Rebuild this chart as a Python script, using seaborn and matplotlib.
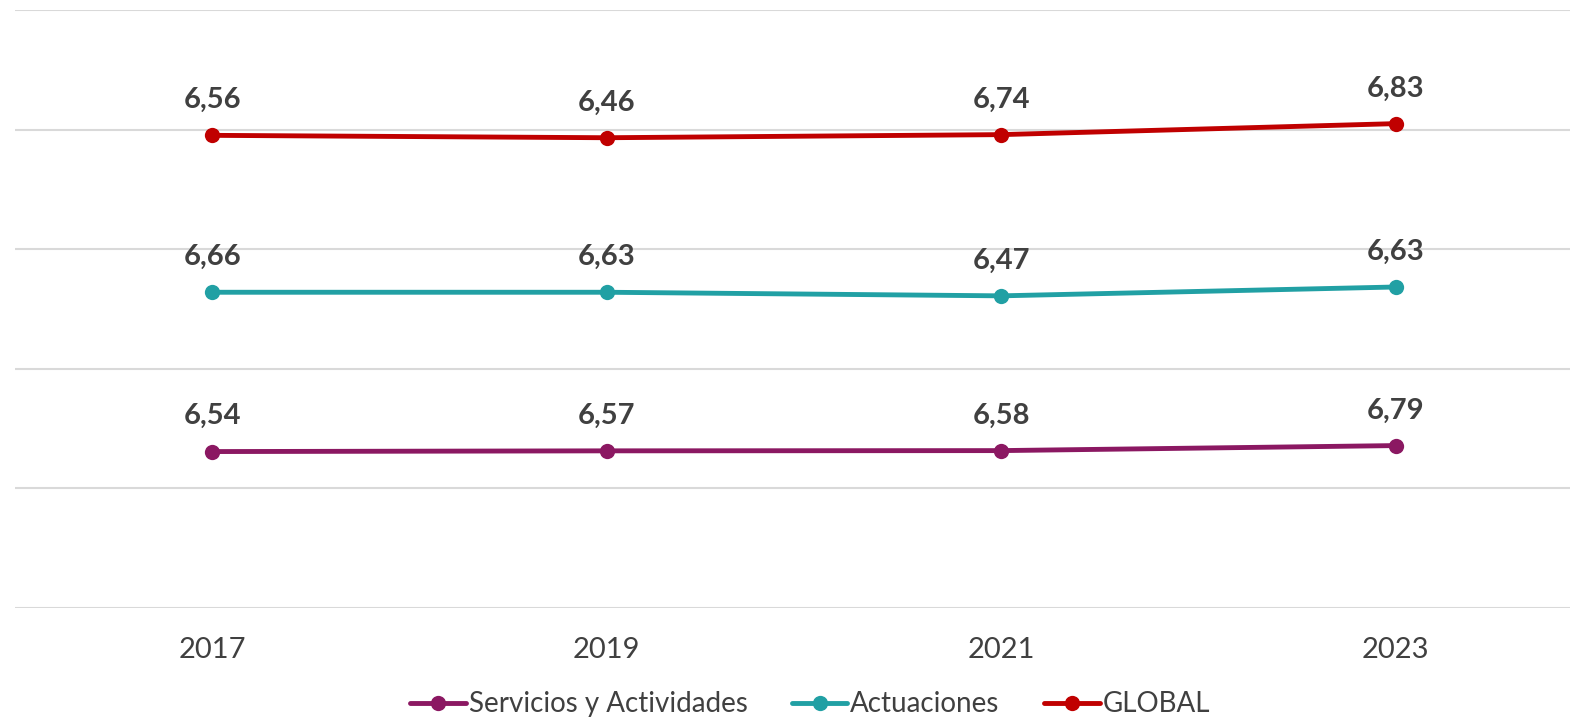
import numpy as np
import pandas as pd
import matplotlib.pyplot as plt
import seaborn as sns

# Data (stacked line chart: each series drawn on top of the previous)
years = ['2017', '2019', '2021', '2023']
series_names = ['Servicios y Actividades', 'Actuaciones', 'GLOBAL']
servicios = [6.54, 6.57, 6.58, 6.79]
actuaciones = [6.66, 6.63, 6.47, 6.63]
global_vals = [6.56, 6.46, 6.74, 6.83]
colors = ['#8B1862', '#21A0A4', '#C00000']

TEXT = '#404040'

sns.set_theme(style='white')
plt.rcParams['font.family'] = ['Lato', 'DejaVu Sans']

values = [servicios, actuaciones, global_vals]
cum = np.cumsum(np.array(values), axis=0)

rows = []
for name, vals, stacked in zip(series_names, values, cum):
    for i, y in enumerate(years):
        rows.append({'year': y, 'pos': i, 'serie': name, 'value': vals[i], 'stacked': stacked[i]})
df = pd.DataFrame(rows)

fig = plt.figure(figsize=(15.7, 7.21), dpi=100)
# plot area runs slightly past the right edge of the image
ax = fig.add_axes([15 / 1570, 1 - 608 / 721, 1578 / 1570, 598 / 721])

sns.lineplot(data=df, x='pos', y='stacked', hue='serie', hue_order=series_names,
             palette=colors, marker='o', markersize=11, markeredgewidth=0,
             linewidth=3.5, ax=ax, legend=True)

for _, r in df.iterrows():
    ax.annotate(f"{r['value']:.2f}".replace('.', ','), (r['pos'], r['stacked']),
                xytext=(0, 16), textcoords='offset points', ha='center', va='bottom',
                fontsize=21, fontweight='bold', color=TEXT)

ax.set_xlim(-0.5, 3.5)
ax.set_ylim(0, 25)
ax.set_yticks(np.arange(0, 26, 5))
ax.set_yticklabels([])
ax.yaxis.grid(True, color='#d9d9d9', linewidth=1.5)
ax.set_xticks(range(len(years)))
ax.set_xticklabels(years, fontsize=21, color=TEXT)
ax.tick_params(axis='x', length=0, pad=21)
ax.tick_params(axis='y', length=0)
ax.set_xlabel('')
ax.set_ylabel('')
for s in ax.spines.values():
    s.set_visible(False)

leg = ax.legend(loc='center', bbox_to_anchor=(795 / 1578, -0.161), ncol=3, frameon=False,
                fontsize=20, handlelength=2.0, handletextpad=0.1, columnspacing=1.6)
for t in leg.get_texts():
    t.set_color(TEXT)

fig.savefig('out.png', dpi=100)
